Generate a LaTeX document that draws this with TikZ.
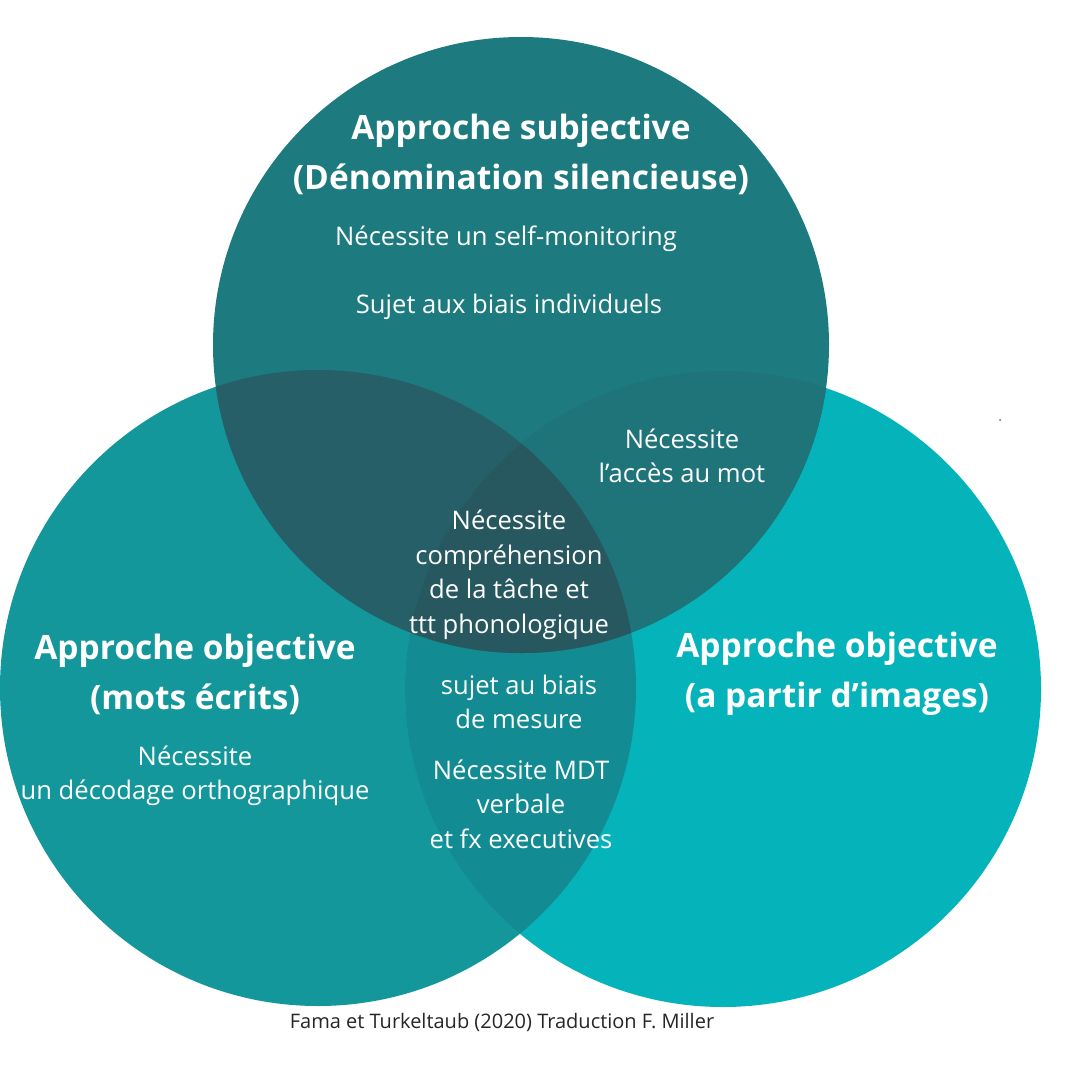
\documentclass[tikz,border=0pt]{standalone}
\usepackage{fontspec}
\setmainfont{Open Sans}
\definecolor{cT}{HTML}{1D7A7E}
\definecolor{cL}{HTML}{13979B}
\definecolor{cR}{HTML}{05B4BA}
\definecolor{cTL}{HTML}{265F67}
\definecolor{cTR}{HTML}{1E7479}
\definecolor{cLR}{HTML}{128C92}
\definecolor{cTLR}{HTML}{27575F}
\tikzset{
  titletxt/.style={text=white, align=center, font=\fontsize{33.5}{50}\selectfont\bfseries, inner sep=0pt},
  bodytxt/.style={text=white, align=center, font=\fontsize{25.6}{34.5}\selectfont, inner sep=0pt},
  citetxt/.style={text=black!85, font=\fontsize{20}{22}\selectfont, inner sep=0pt}
}
\begin{document}
\begin{tikzpicture}[x=1pt,y=-1pt]
\useasboundingbox (0,0) rectangle (1078,1076);
\fill[white] (0,0) rectangle (1078,1076);
\def\Tc{(521,345) circle[radius=308pt]}
\def\Lc{(318,688) circle[radius=318pt]}
\def\Rc{(723,689) circle[radius=318pt]}
% base circles
\fill[cL] \Lc;
\fill[cR] \Rc;
\fill[cT] \Tc;
% left-right
\begin{scope}
  \clip \Lc;
  \fill[cLR] \Rc;
\end{scope}
% top-left
\begin{scope}
  \clip \Tc;
  \fill[cTL] \Lc;
\end{scope}
% top-right
\begin{scope}
  \clip \Tc;
  \fill[cTR] \Rc;
\end{scope}
% all three
\begin{scope}
  \clip \Tc;
  \clip \Lc;
  \fill[cTLR] \Rc;
\end{scope}
\fill[gray!80!black] (1000,420) circle[radius=1pt];
% texts
\node[titletxt] (ttop) at (521,154) {Approche subjective\\(Dénomination silencieuse)};
\node[bodytxt] (t1) at (506,239) {Nécessite un self-monitoring};
\node[bodytxt] (t2) at (509,307) {Sujet aux biais individuels};
\node[bodytxt] (ttr) at (682,456) {Nécessite\\l’accès au mot};
\node[bodytxt] (tc) at (509,575) {Nécessite\\compréhension\\de la tâche et\\ttt phonologique};
\node[bodytxt] (tlr1) at (519,702) {sujet au biais\\de mesure};
\node[bodytxt] (tlr2) at (521,804) {Nécessite MDT\\verbale\\et fx executives};
\node[titletxt] (tl) at (195,674) {Approche objective\\(mots écrits)};
\node[bodytxt] (tl2) at (195,776) {Nécessite\\un décodage orthographique};
\node[titletxt] (tr) at (837,674) {Approche objective\\(a partir d’images)};
\node[citetxt] (cite) at (502,1022) {Fama et Turkeltaub (2020) Traduction F. Miller};
\end{tikzpicture}
\end{document}
